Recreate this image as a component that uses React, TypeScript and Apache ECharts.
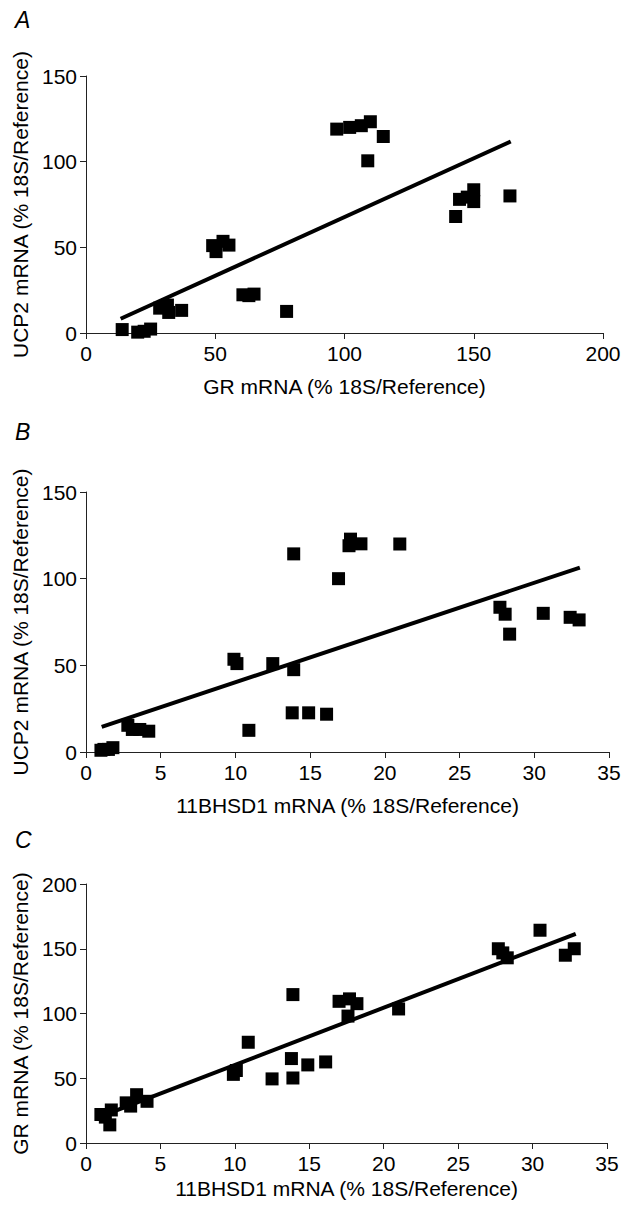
import React, { useEffect, useRef } from "react";
import * as echarts from "echarts";

// Panel A: GR (x) vs UCP2 (y)
const aX = [14, 20, 22.5, 25, 28.5, 31.5, 32, 37, 49, 50.3, 53, 55.3, 60.7, 63, 65, 77.6, 97, 102, 106.5, 110, 115, 109, 143, 144.5, 147.5, 150, 150, 164];
const aY = [2, 0.5, 1, 2.3, 14.5, 16.3, 12, 13.2, 51, 47.5, 53.5, 51.3, 22.3, 21.8, 22.7, 12.6, 119, 120, 121, 123.3, 114.7, 100.5, 68, 78, 79.3, 83.6, 76.7, 80];
const aFitX = [13.4, 164.3];
const aFitY = [8.3, 111.8];

// Panel B: 11BHSD1 (x) vs UCP2 (y)
const bX = [1.0, 1.2, 1.5, 1.8, 2.8, 3.1, 3.6, 4.2, 9.9, 10.1, 10.9, 12.5, 13.9, 13.9, 13.8, 14.9, 16.1, 16.9, 17.7, 17.6, 18.4, 21.0, 27.7, 28.05, 28.35, 30.6, 32.4, 33.0];
const bY = [1, 1.5, 1.5, 2.5, 15.4, 13, 13, 12, 53.5, 51, 12.5, 51, 47.5, 114.3, 22.6, 22.6, 21.8, 100, 122.8, 119, 120.1, 120, 83.5, 79.5, 68, 80, 77.7, 76.2];
const bFitX = [1.05, 33.05];
const bFitY = [14.5, 106.4];

// Panel C: 11BHSD1 (x) vs GR (y)
const cX = [1.0, 1.3, 1.6, 1.7, 2.7, 3.0, 3.4, 4.1, 9.9, 10.1, 10.9, 12.5, 13.8, 13.9, 13.9, 14.9, 16.1, 17.0, 17.7, 18.2, 17.6, 21.0, 27.7, 28.0, 28.3, 30.5, 32.2, 32.8];
const cY = [22, 20, 14, 25.5, 31, 28.5, 37.3, 32.2, 53, 56, 77.8, 49.5, 65.2, 50.2, 114.6, 60.3, 62.6, 109.4, 111.3, 107.6, 98, 103.5, 150, 146.8, 143, 164.3, 145, 150];
const cFitX = [1.0, 32.9];
const cFitY = [20.5, 161.5];

const panelLabels = ["A", "B", "C"];
const xTitles = ["GR mRNA (% 18S/Reference)", "11BHSD1 mRNA (% 18S/Reference)", "11BHSD1 mRNA (% 18S/Reference)"];
const yTitles = ["UCP2 mRNA (% 18S/Reference)", "UCP2 mRNA (% 18S/Reference)", "GR mRNA (% 18S/Reference)"];
const xMax = [200, 35, 35];
const xInterval = [50, 5, 5];
const yMax = [150, 150, 200];
const yInterval = [50, 50, 50];

const FONT = "'Liberation Sans', Arial, Helvetica, sans-serif";
const AXIS_COLOR = "#222";

const zip = (xs: number[], ys: number[]) => xs.map((x, i) => [x, ys[i]]);

export default function App() {
  const ref = useRef<HTMLDivElement>(null);
  useEffect(() => {
    if (!ref.current) return;
    const chart = echarts.init(ref.current, undefined, { renderer: "svg" });
    const grids = [
      { left: 86, width: 517, top: 76, height: 257 },
      { left: 86, width: 523, top: 492, height: 260 },
      { left: 86, width: 521, top: 884, height: 259 },
    ];
    const xGaps = [43, 43, 35];
    const labelTops = [8, 420, 828];
    const axisCommon = {
      axisLine: { show: true, lineStyle: { color: AXIS_COLOR, width: 1 } },
      axisTick: { show: true, inside: false, length: 6, lineStyle: { color: AXIS_COLOR, width: 1 } },
      splitLine: { show: false },
      nameLocation: "middle" as const,
      nameTextStyle: { fontFamily: FONT, fontSize: 21, color: "#000" },
    };
    const scatters = [zip(aX, aY), zip(bX, bY), zip(cX, cY)];
    const fits = [zip(aFitX, aFitY), zip(bFitX, bFitY), zip(cFitX, cFitY)];
    const option = {
      animation: false,
      backgroundColor: "#fff",
      title: panelLabels.map((t, i) => ({
        text: t,
        left: 15,
        top: labelTops[i],
        padding: 0,
        textStyle: { fontFamily: FONT, fontSize: 23, fontStyle: "italic", fontWeight: "normal", color: "#000" },
      })),
      grid: grids,
      xAxis: grids.map((_, i) => ({
        ...axisCommon,
        type: "value",
        gridIndex: i,
        min: 0,
        max: xMax[i],
        interval: xInterval[i],
        name: xTitles[i],
        nameGap: xGaps[i],
        axisLabel: { fontFamily: FONT, fontSize: 21, color: "#000", margin: 10 },
      })),
      yAxis: grids.map((_, i) => ({
        ...axisCommon,
        type: "value",
        gridIndex: i,
        min: 0,
        max: yMax[i],
        interval: yInterval[i],
        name: yTitles[i],
        nameGap: 50,
        nameRotate: 90,
        axisLabel: { fontFamily: FONT, fontSize: 21, color: "#000", margin: 9 },
      })),
      series: [
        ...fits.map((d, i) => ({
          type: "line",
          xAxisIndex: i,
          yAxisIndex: i,
          data: d,
          symbol: "none",
          lineStyle: { color: "#000", width: 4 },
          z: 2,
        })),
        ...scatters.map((d, i) => ({
          type: "scatter",
          xAxisIndex: i,
          yAxisIndex: i,
          data: d,
          symbol: "rect",
          symbolSize: 13,
          itemStyle: { color: "#000", opacity: 1 },
          z: 3,
        })),
      ],
    };
    chart.setOption(option as any);
    return () => chart.dispose();
  }, []);
  return (
    <div
      ref={ref}
      style={{ position: "absolute", left: 0, top: 0, width: 634, height: 1209, background: "#fff" }}
    />
  );
}
